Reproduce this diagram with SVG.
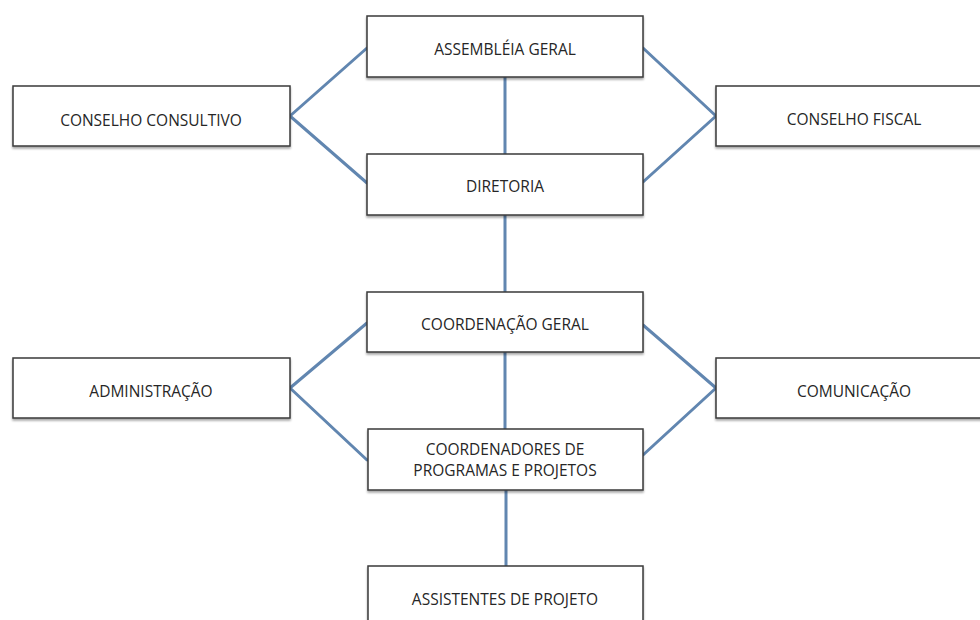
<svg xmlns="http://www.w3.org/2000/svg" width="980" height="620" viewBox="0 0 980 620">
<defs>
<filter id="sh" x="-5%" y="-10%" width="110%" height="130%">
<feGaussianBlur in="SourceAlpha" stdDeviation="1.2"/>
<feOffset dx="0" dy="1.5" result="b"/>
<feComponentTransfer><feFuncA type="linear" slope="0.35"/></feComponentTransfer>
<feMerge><feMergeNode/><feMergeNode in="SourceGraphic"/></feMerge>
</filter>
</defs>
<style>
.box{fill:#fff;stroke:#3a3a3a;stroke-width:1.5;filter:url(#sh)}
.t{font-family:"Open Sans","Liberation Sans",sans-serif;font-size:15.5px;fill:#262626;text-anchor:middle}
.c{stroke:#6186b0;stroke-width:3;fill:none;stroke-linecap:round}
</style>
<rect width="980" height="620" fill="#fff"/>
<g id="connectors">
<line class="c" x1="290" y1="116" x2="367" y2="48"/>
<line class="c" x1="290" y1="116" x2="367" y2="183"/>
<line class="c" x1="643" y1="48" x2="716" y2="116"/>
<line class="c" x1="643" y1="182" x2="716" y2="116"/>
<line class="c" x1="505" y1="77" x2="505" y2="154"/>
<line class="c" x1="505" y1="215" x2="505" y2="292"/>
<line class="c" x1="290" y1="388" x2="367" y2="323"/>
<line class="c" x1="290" y1="388" x2="367" y2="460"/>
<line class="c" x1="643" y1="325" x2="716" y2="388"/>
<line class="c" x1="643" y1="455" x2="716" y2="388"/>
<line class="c" x1="505" y1="352" x2="505" y2="429"/>
<line class="c" x1="506" y1="490" x2="506" y2="566"/>
</g>
<g id="assembleia">
<rect class="box" x="367" y="16" width="276" height="61"/>
<text class="t" x="505" y="55">ASSEMBLÉIA GERAL</text>
</g>
<g id="conselho-consultivo">
<rect class="box" x="13" y="86" width="277" height="60"/>
<text class="t" x="151" y="126">CONSELHO CONSULTIVO</text>
</g>
<g id="conselho-fiscal">
<rect class="box" x="716" y="86" width="276" height="60"/>
<text class="t" x="854" y="125">CONSELHO FISCAL</text>
</g>
<g id="diretoria">
<rect class="box" x="367" y="154" width="276" height="61"/>
<text class="t" x="505" y="192">DIRETORIA</text>
</g>
<g id="coordenacao-geral">
<rect class="box" x="367" y="292" width="276" height="60"/>
<text class="t" x="505" y="330">COORDENAÇÃO GERAL</text>
</g>
<g id="administracao">
<rect class="box" x="13" y="358" width="277" height="60"/>
<text class="t" x="151" y="397">ADMINISTRAÇÃO</text>
</g>
<g id="comunicacao">
<rect class="box" x="716" y="358" width="276" height="60"/>
<text class="t" x="854" y="397">COMUNICAÇÃO</text>
</g>
<g id="coordenadores">
<rect class="box" x="368" y="429" width="275" height="61"/>
<text class="t" x="505" y="455">COORDENADORES DE</text>
<text class="t" x="505" y="476">PROGRAMAS E PROJETOS</text>
</g>
<g id="assistentes">
<rect class="box" x="368" y="566" width="275" height="70"/>
<text class="t" x="505" y="605">ASSISTENTES DE PROJETO</text>
</g>
</svg>
